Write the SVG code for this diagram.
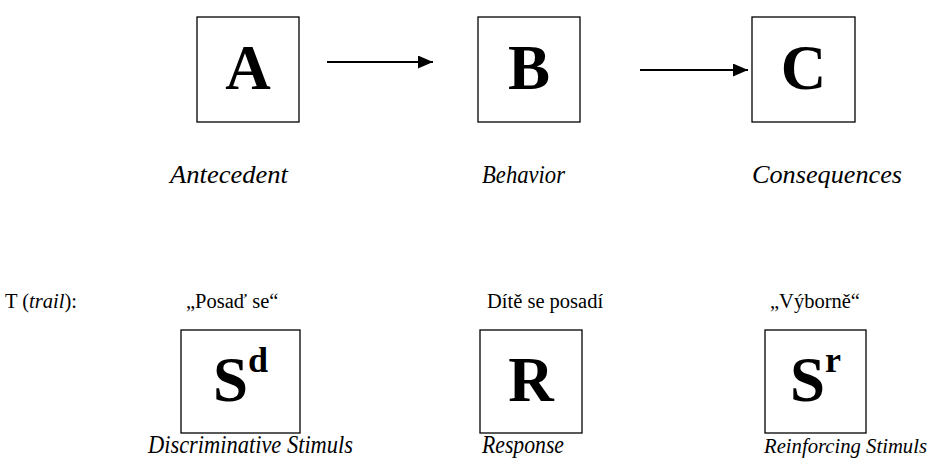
<svg xmlns="http://www.w3.org/2000/svg" width="935" height="464" viewBox="0 0 935 464">
  <style>
    .box { fill: #fff; stroke: #000; stroke-width: 1.3; }
    .big { font-family: "Liberation Serif", "Times New Roman", serif; font-weight: bold; font-size: 63px; fill: #000; }
    .mid { text-anchor: middle; }
    .sup { font-family: "Liberation Serif", "Times New Roman", serif; font-weight: bold; font-size: 36px; fill: #000; }
    .cap { font-family: "Liberation Serif", "Times New Roman", serif; font-style: italic; font-size: 25px; fill: #000; }
    .cap-sm { font-size: 21px; }
    .txt { font-family: "Liberation Serif", "Times New Roman", serif; font-size: 20.5px; fill: #000; }
    .edge { stroke: #000; stroke-width: 2; fill: none; }
  </style>
  <defs>
    <marker id="arrow" markerUnits="userSpaceOnUse" markerWidth="16" markerHeight="14" refX="15" refY="6.5" orient="auto">
      <path d="M0,0 L15,6.5 L0,13 Z" fill="#000"/>
    </marker>
  </defs>
  <rect width="935" height="464" fill="#fff"/>

  <!-- upper chain: A -> B -> C -->
  <g id="node-a">
    <rect class="box" x="197" y="17" width="102" height="105"/>
    <text class="big mid" x="248" y="89">A</text>
  </g>
  <g id="node-b">
    <rect class="box" x="478" y="17" width="102" height="105"/>
    <text class="big mid" x="529" y="89">B</text>
  </g>
  <g id="node-c">
    <rect class="box" x="752" y="17" width="103" height="105"/>
    <text class="big mid" x="803.5" y="89">C</text>
  </g>

  <g id="connectors">
    <line class="edge" x1="327" y1="62" x2="433" y2="62" marker-end="url(#arrow)"/>
    <line class="edge" x1="640" y1="70" x2="748" y2="70" marker-end="url(#arrow)"/>
  </g>

  <!-- captions under the upper chain (narrow italic) -->
  <g id="captions-top">
    <text class="cap" x="170" y="183" textLength="118" lengthAdjust="spacingAndGlyphs">Antecedent</text>
    <text class="cap" x="482" y="183" textLength="83" lengthAdjust="spacingAndGlyphs">Behavior</text>
    <text class="cap" x="752" y="183" textLength="150" lengthAdjust="spacingAndGlyphs">Consequences</text>
  </g>

  <!-- trial line -->
  <g id="trial">
    <text class="txt" x="5" y="308">T (<tspan font-style="italic">trail</tspan>):</text>
    <text class="txt" x="186" y="308">„Posaď se“</text>
    <text class="txt" x="487" y="308">Dítě se posadí</text>
    <text class="txt" x="770" y="308">„Výborně“</text>
  </g>

  <!-- lower chain: Sd, R, Sr -->
  <g id="node-sd">
    <rect class="box" x="181" y="330" width="119" height="103"/>
    <text class="big" x="213" y="401">S</text>
    <text class="sup" x="248" y="372">d</text>
  </g>
  <g id="node-r">
    <rect class="box" x="480" y="330" width="102" height="103"/>
    <text class="big mid" x="531" y="401">R</text>
  </g>
  <g id="node-sr">
    <rect class="box" x="765" y="330" width="101" height="103"/>
    <text class="big" x="790" y="401">S</text>
    <text class="sup" x="825" y="372">r</text>
  </g>

  <g id="captions-bottom">
    <text class="cap" x="148" y="453" textLength="205" lengthAdjust="spacingAndGlyphs">Discriminative Stimuls</text>
    <text class="cap" x="482" y="453" textLength="82" lengthAdjust="spacingAndGlyphs">Response</text>
    <text class="cap cap-sm" x="764" y="453" textLength="163" lengthAdjust="spacingAndGlyphs">Reinforcing Stimuls</text>
  </g>
</svg>
